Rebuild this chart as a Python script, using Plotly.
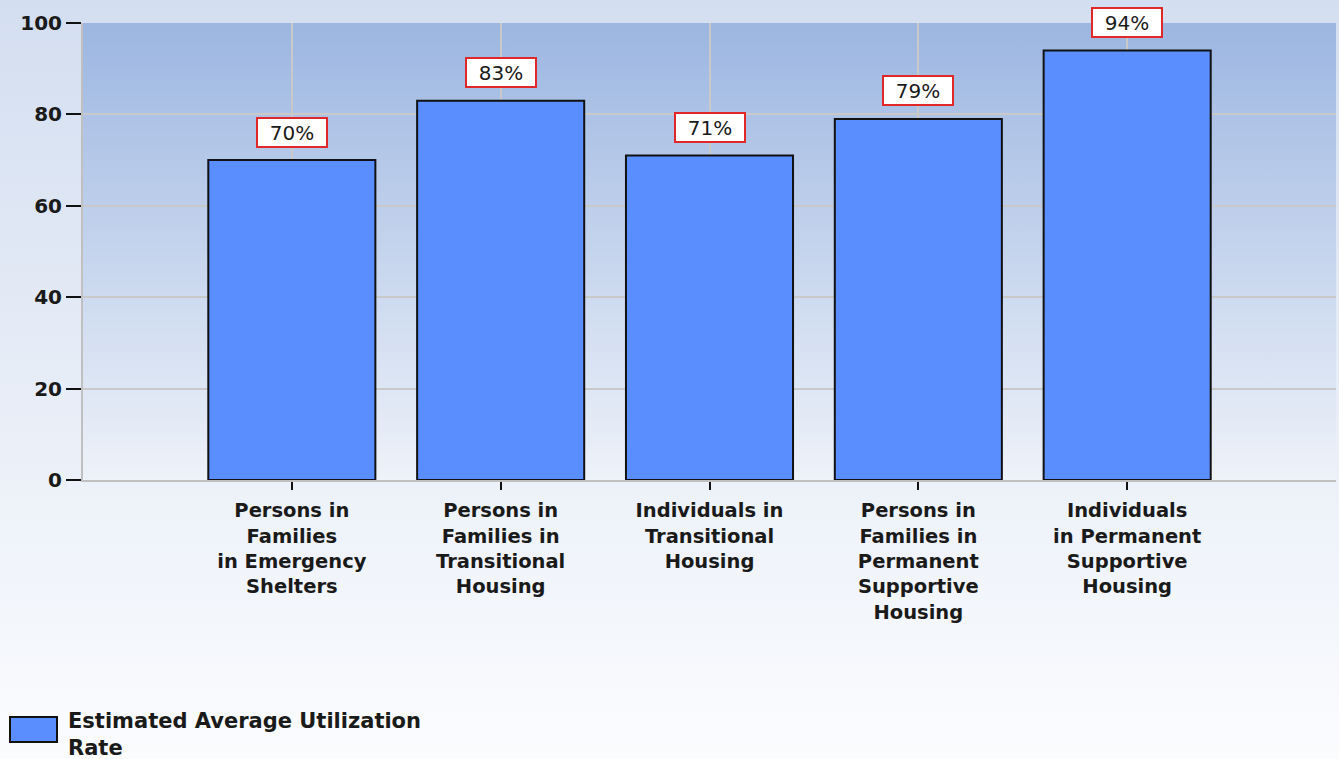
import base64
import plotly.graph_objects as go

# ---- data ----
categories = [
    "Persons in<br>Families<br>in Emergency<br>Shelters",
    "Persons in<br>Families in<br>Transitional<br>Housing",
    "Individuals in<br>Transitional<br>Housing",
    "Persons in<br>Families in<br>Permanent<br>Supportive<br>Housing",
    "Individuals<br>in Permanent<br>Supportive<br>Housing",
]
values = [70, 83, 71, 79, 94]
series_name = "Estimated Average Utilization<br>Rate"
y_ticks = [0, 20, 40, 60, 80, 100]

FONT = "DejaVu Sans"
W, H = 1339, 759
ML, MR, MT, MB = 83, 3, 23, 279
PW, PH = W - ML - MR, H - MT - MB


def grad_uri(top, bottom):
    svg = (
        '<svg xmlns="http://www.w3.org/2000/svg" width="10" height="100" '
        'viewBox="0 0 10 100" preserveAspectRatio="none">'
        '<defs><linearGradient id="g" x1="0" y1="0" x2="0" y2="1">'
        f'<stop offset="0" stop-color="{top}"/>'
        f'<stop offset="1" stop-color="{bottom}"/>'
        '</linearGradient></defs>'
        '<rect x="0" y="0" width="10" height="100" fill="url(#g)"/></svg>'
    )
    return "data:image/svg+xml;base64," + base64.b64encode(svg.encode()).decode()


fig = go.Figure()
fig.add_trace(go.Bar(
    x=categories, y=values, name=series_name,
    width=0.8,
    marker=dict(color="#5a8eff", line=dict(color="#111111", width=2)),
    showlegend=False,
))

annotations = []
for c, v in zip(categories, values):
    annotations.append(dict(
        x=c, y=v, xref="x", yref="y", text=f"{v}%", showarrow=False,
        yshift=28, bgcolor="white", bordercolor="#e02828", borderwidth=2,
        borderpad=2, width=64, height=23,
        font=dict(family=FONT, size=20, color="#1a1a1a"),
    ))

# manual legend
px = lambda x: (x - ML) / PW
py = lambda y: (MT + PH - y) / PH
annotations.append(dict(
    x=px(66), y=py(734), xref="paper", yref="paper", xanchor="left", yanchor="middle",
    text=series_name, showarrow=False, align="left",
    font=dict(family=FONT, size=21, color="#1a1a1a", weight="bold"),
))
shapes = [dict(
    type="rect", xref="paper", yref="paper",
    x0=px(10), x1=px(57), y0=py(742), y1=py(717),
    fillcolor="#5a8eff", line=dict(color="#111111", width=2),
)]

images = [
    dict(source=grad_uri("#d3def0", "#fbfcfe"), xref="paper", yref="paper",
         x=px(0), y=py(0), sizex=W / PW, sizey=H / PH, xanchor="left", yanchor="top",
         sizing="stretch", layer="below"),
    dict(source=grad_uri("#9cb6e1", "#eef2f9"), xref="paper", yref="paper",
         x=0, y=1, sizex=1, sizey=1, xanchor="left", yanchor="top",
         sizing="stretch", layer="below"),
]

fig.update_layout(
    width=W, height=H,
    margin=dict(l=ML, r=MR, t=MT, b=MB, pad=0),
    paper_bgcolor="white",
    plot_bgcolor="rgba(0,0,0,0)",
    images=images, shapes=shapes, annotations=annotations,
    bargap=0.2,
    xaxis=dict(
        type="category", range=[-1, 5],
        showgrid=True, gridcolor="#c9c9c9", gridwidth=1.5,
        showline=True, linecolor="#c0c0c0", linewidth=2,
        ticks="outside", ticklen=8, tickwidth=2, tickcolor="#111111",
        tickfont=dict(family=FONT, size=19.5, color="#1a1a1a", weight="bold"),
        tickangle=0, ticklabelstandoff=4,
    ),
    yaxis=dict(
        range=[0, 100], tickvals=y_ticks,
        showgrid=True, gridcolor="#c9c9c9", gridwidth=1.5,
        showline=True, linecolor="#c0c0c0", linewidth=2,
        ticks="outside", ticklen=15, tickwidth=2, tickcolor="#111111",
        tickfont=dict(family=FONT, size=20, color="#1a1a1a", weight="bold"),
        zeroline=False,
    ),
    font=dict(family=FONT),
)

fig.write_html(
    "out.html",
    config={"displayModeBar": False},
    post_script="document.body.style.margin='0';document.body.style.overflow='hidden';",
)
